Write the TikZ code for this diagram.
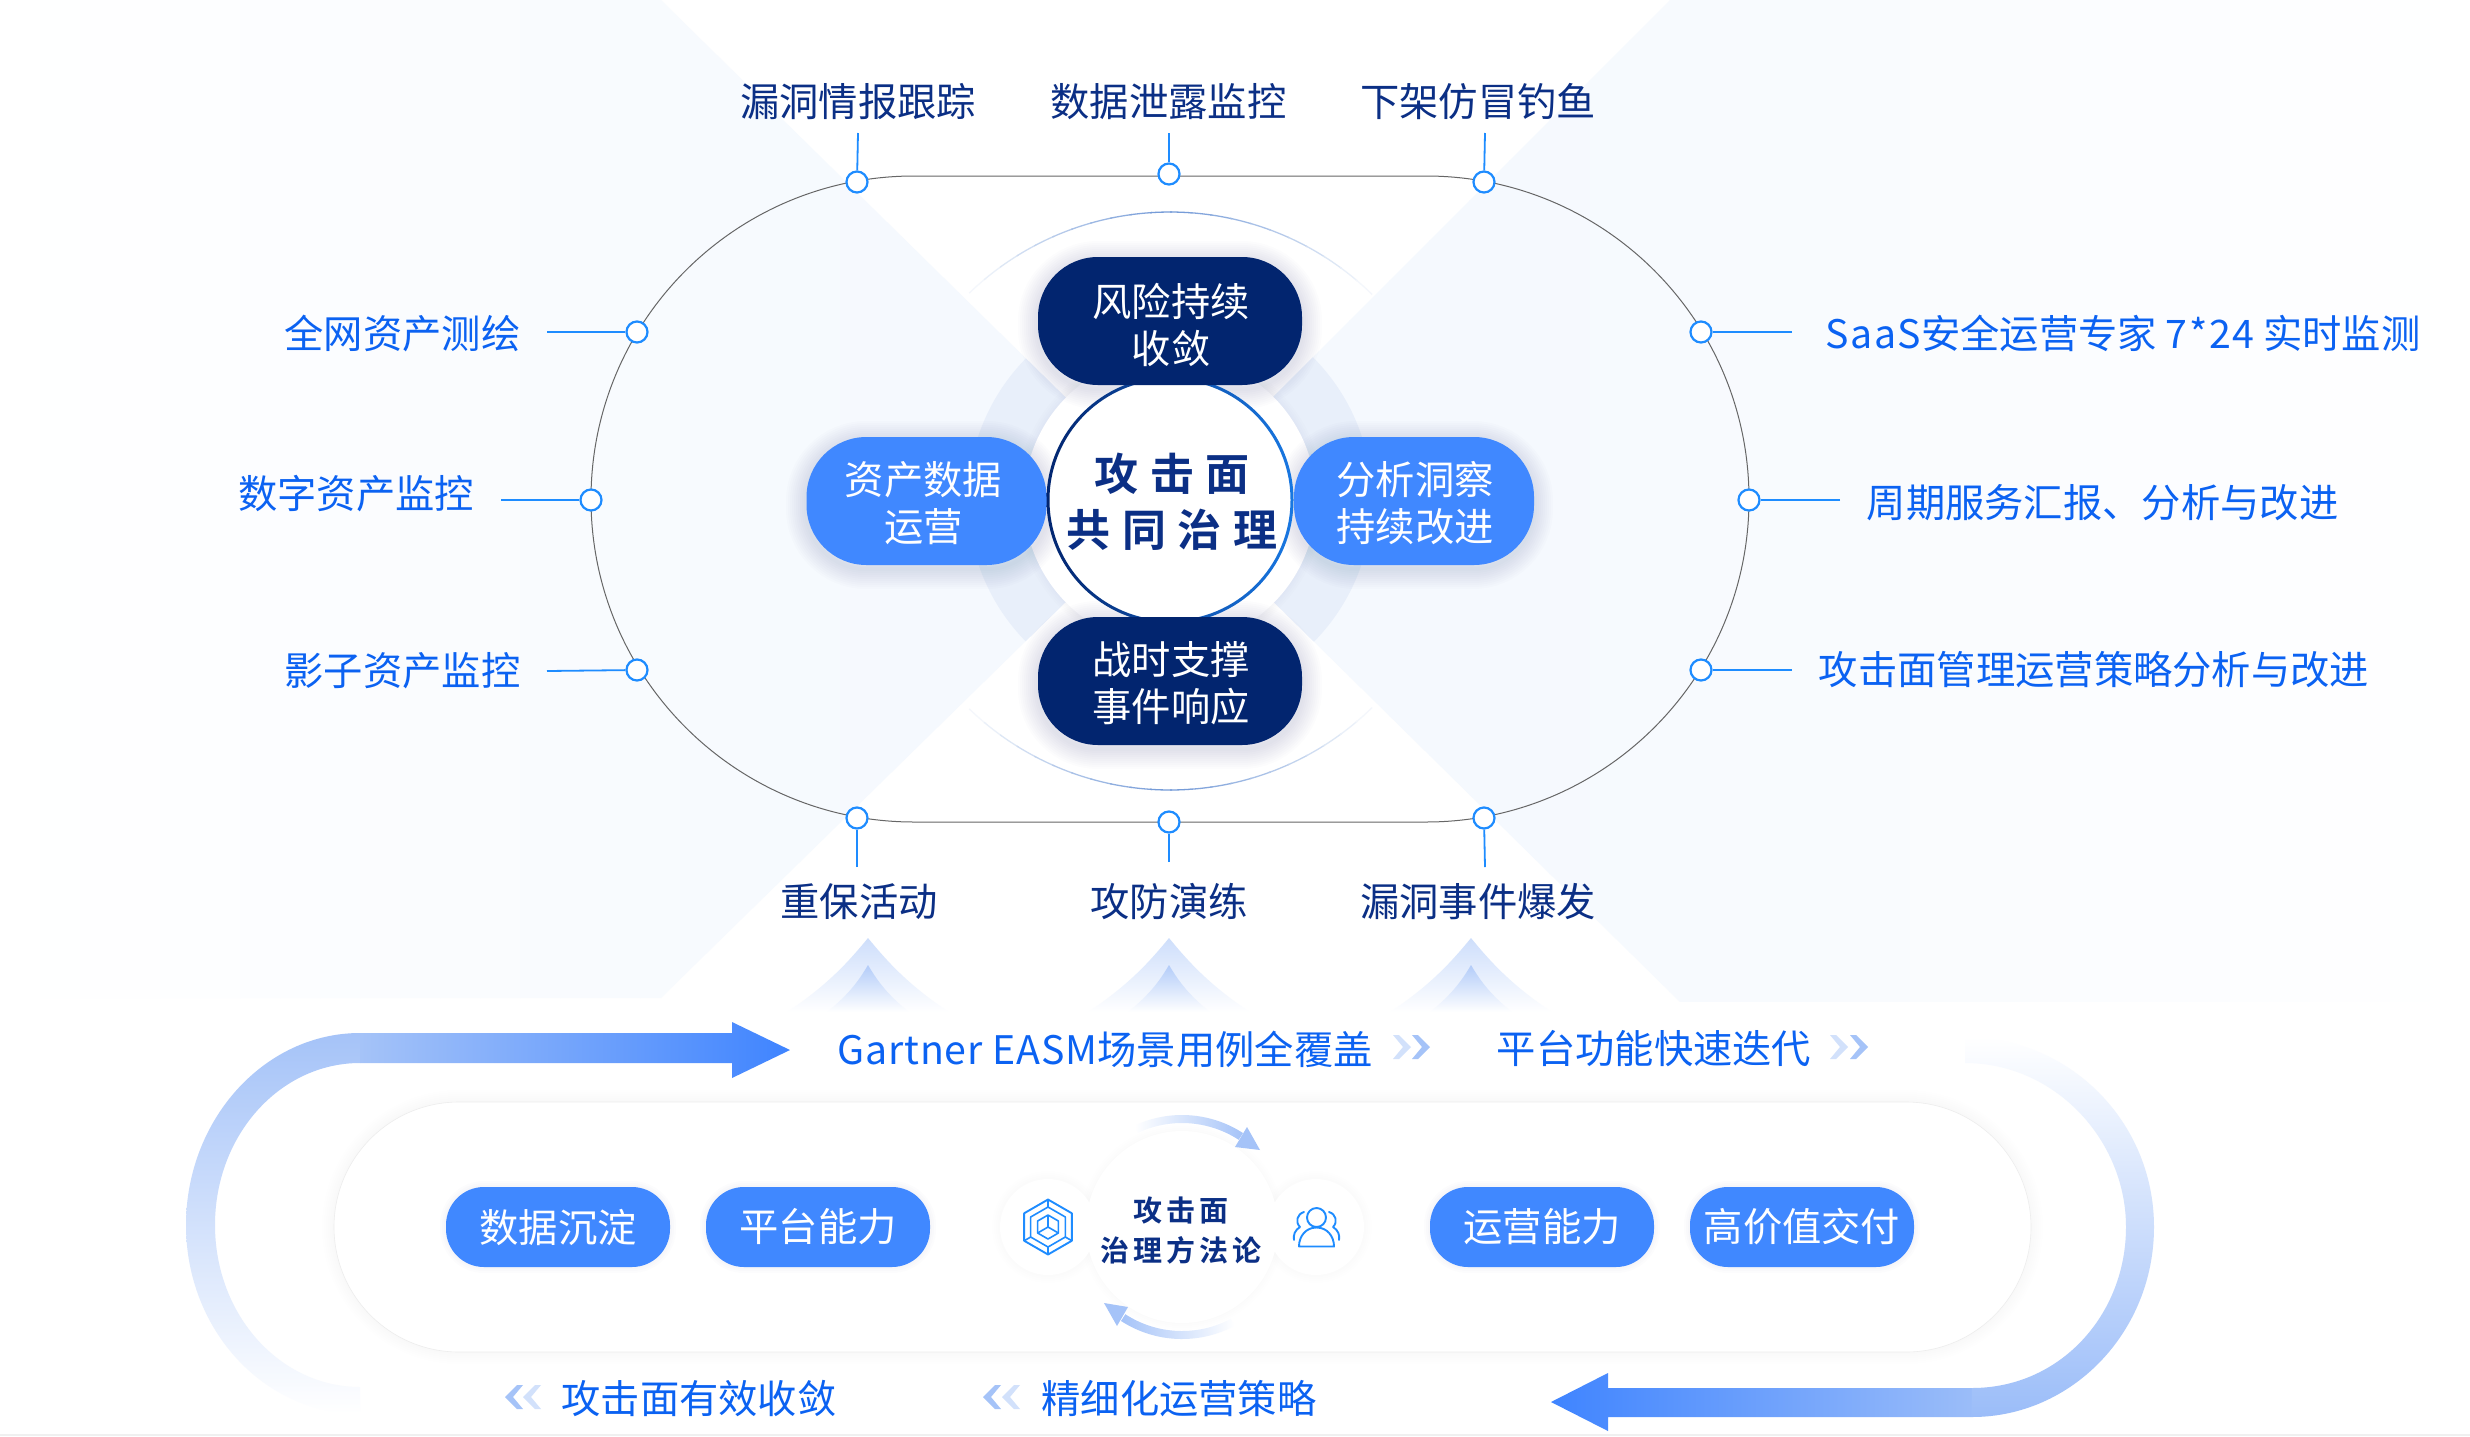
\documentclass[tikz,border=0pt]{standalone}
\usepackage{fontspec}
\setmainfont{Noto Sans CJK SC}
\newfontfamily\spacedbold[LetterSpace=26,BoldFont={Noto Sans CJK SC Bold}]{Noto Sans CJK SC}
\newfontfamily\spacedsmall[LetterSpace=14,BoldFont={Noto Sans CJK SC Bold}]{Noto Sans CJK SC}
\newfontfamily\latinwide[LetterSpace=4]{Noto Sans CJK SC}
\newfontfamily\latinslight[LetterSpace=2.2]{Noto Sans CJK SC}
\usetikzlibrary{calc}
\definecolor{navy}{HTML}{02256F}
\definecolor{midblue}{HTML}{4088FF}
\definecolor{sidetxt}{HTML}{0B62F2}
\definecolor{toptxt}{HTML}{0B2F85}
\definecolor{dotblue}{HTML}{1E8CFF}
\definecolor{pale}{HTML}{F5F9FE}
\definecolor{ringc}{HTML}{E8EFFA}
\definecolor{arcblue}{HTML}{6F97D6}
\definecolor{softarrow}{HTML}{A5C3F8}
\definecolor{arrowdeep}{HTML}{3F84FF}
\definecolor{track}{HTML}{666666}
\definecolor{shadowc}{HTML}{1B3A7A}
\tikzset{
  label text/.style={font=\fontsize{19.65}{23.5}\selectfont,inner sep=0pt},
  toplabel/.style={label text,text=toptxt},
  sidelabel/.style={label text,text=sidetxt},
  bandlabel/.style={label text,text=sidetxt},
  dot/.style={circle,draw=dotblue,fill=white,line width=1.1pt,minimum size=10.5pt,inner sep=0pt},
  stub/.style={draw=dotblue,line width=0.9pt},
  bigpill/.style={rectangle,rounded corners=30pt,minimum width=132pt,minimum height=64pt,inner sep=0pt,text=white,align=center,font=\fontsize{19.65}{23.5}\selectfont},
  sidepill/.style={bigpill,fill=midblue,minimum width=120pt},
  darkpill/.style={bigpill,fill=navy},
  smallpill/.style={rectangle,rounded corners=19pt,fill=midblue,minimum width=112pt,minimum height=40pt,inner sep=0pt,text=white,font=\fontsize{19.65}{23.5}\selectfont},
  whitedisc/.style={circle,fill=white,inner sep=0pt},
  icon/.style={draw=dotblue,line width=0.95pt,line join=round}
}
\newcommand{\softbox}[7]{% x1 y1 x2 y2 radius(pt) maxwidth opacity
  \foreach \w in {2,4,...,#6}{
    \draw[shadowc,opacity=#7,line width=\w pt,rounded corners=#5pt] (#1,#2) rectangle (#3,#4);
  }
}
\newcommand{\softcircle}[5]{% x y r(units) maxw opacity
  \foreach \w in {2,4,...,#4}{
    \draw[shadowc,opacity=#5,line width=\w pt] (#1,#2) circle[radius=#3];
  }
}
\newcommand{\chev}[4]{% x y dir colour
  \fill[#4] ({#1},{#2-12}) -- ({#1+#3*6},{#2-12}) -- ({#1+#3*18},{#2}) -- ({#1+#3*6},{#2+12}) -- ({#1},{#2+12}) -- ({#1+#3*10},{#2}) -- cycle;
}
\newcommand{\peak}[1]{%
  \shade[top color=softarrow!55!white,bottom color=white] (#1-81,1012) .. controls (#1-40,985) and (#1-18,960) .. (#1,938) .. controls (#1+18,960) and (#1+40,985) .. (#1+81,1012) -- cycle;
  \shade[top color=softarrow!85!white,bottom color=white] (#1-41,1012) .. controls (#1-20,995) and (#1-10,982) .. (#1,965) .. controls (#1+10,982) and (#1+20,995) .. (#1+41,1012) -- cycle;
}
\newcommand{\thinarc}[2]{% sign of angle, y centre
  \foreach \i in {0,...,21}{
    \pgfmathsetmacro\sa{#1*(134-4*\i)}
    \pgfmathsetmacro\ea{#1*(134-4*(\i+1))+#1*(-0.4)}
    \pgfmathsetmacro\v{max(8,100-abs(\i-10.5)*9)}
    \draw[arcblue!\v!white,line width=0.65pt] ($(1170,#2)+(\sa:289)$) arc[start angle=\sa,end angle=\ea,radius=289];
  }
}
\newcommand{\lowA}{\rule{0pt}{20.3pt}}
\newcommand{\lowB}{\rule{0pt}{18.8pt}}
\begin{document}
\begin{tikzpicture}[x=0.5pt,y=-0.5pt]
\useasboundingbox (0,0) rectangle (2470,1436);
\fill[white] (0,0) rectangle (2470,1436);
% background wedges
\begin{scope}
  \clip (0,0) -- (661,0) -- (1170,500) -- (661,998) -- (0,998) -- cycle;
  \foreach \i in {0,...,29}{
    \pgfmathsetmacro\v{min(100,\i*100/22)}
    \fill[pale!\v!white] ({\i*40},0) rectangle ({\i*40+41},1000);
  }
\end{scope}
\begin{scope}
  \clip (1670,0) -- (2470,0) -- (2470,1002) -- (1680,1002) -- (1170,500) -- cycle;
  \foreach \i in {0,...,32}{
    \pgfmathsetmacro\v{min(100,\i*100/24)}
    \fill[pale!\v!white] ({2470-\i*40-41},0) rectangle ({2470-\i*40},1002);
  }
\end{scope}
% pale ring in the two wedges
\begin{scope}
  \clip (661,0) -- (1170,500) -- (661,998) -- (500,998) -- (500,0) -- cycle;
  \fill[ringc] (1170,500) circle[radius=202];
\end{scope}
\begin{scope}
  \clip (1670,0) -- (1170,500) -- (1680,1002) -- (1900,1002) -- (1900,0) -- cycle;
  \fill[ringc] (1170,500) circle[radius=202];
\end{scope}
\softcircle{1170}{500}{146}{8}{0.006}
\fill[white] (1170,500) circle[radius=146];
% thin outer arcs
\thinarc{-1}{501}
\thinarc{1}{501}
% track
\draw[track,line width=0.5pt,rounded corners=161.5pt] (591,176) rectangle (1749,822);
% track dots and stubs
\node[dot] (t1) at (857,182) {};
\node[dot] (t2) at (1169,174) {};
\node[dot] (t3) at (1484,182) {};
\node[dot] (l1) at (637,332) {};
\node[dot] (l2) at (591,500) {};
\node[dot] (l3) at (637,670) {};
\node[dot] (r1) at (1701,332) {};
\node[dot] (r2) at (1749,500) {};
\node[dot] (r3) at (1701,670) {};
\node[dot] (b1) at (857,818) {};
\node[dot] (b2) at (1169,822) {};
\node[dot] (b3) at (1484,818) {};
\coordinate (st1) at (858,133);
\coordinate (st2) at (1169,133);
\coordinate (st3) at (1485,133);
\coordinate (sl1) at (547,332);
\coordinate (sl2) at (501,500);
\coordinate (sl3) at (547,671);
\coordinate (sr1) at (1792,332);
\coordinate (sr2) at (1840,500);
\coordinate (sr3) at (1792,670);
\coordinate (sb1) at (857,867);
\coordinate (sb2) at (1169,862);
\coordinate (sb3) at (1485,867);
\foreach \a/\b in {st1/t1,st2/t2,st3/t3,sl1/l1,sl2/l2,sl3/l3,sr1/r1,sr2/r2,sr3/r3,sb1/b1,sb2/b2,sb3/b3}
  \draw[stub] (\a) -- (\b);
% labels
\node[toplabel] (lt1) at (858,101.5) {漏洞情报跟踪};
\node[toplabel] (lt2) at (1168.5,101.5) {数据泄露监控};
\node[toplabel] (lt3) at (1478,101.5) {下架仿冒钓鱼};
\node[toplabel] (lb1) at (859,901.5) {重保活动};
\node[toplabel] (lb2) at (1169,901.5) {攻防演练};
\node[toplabel] (lb3) at (1478,901.5) {漏洞事件爆发};
\node[sidelabel] (ll1) at (402.5,333) {全网资产测绘};
\node[sidelabel] (ll2) at (356,493.5) {数字资产监控};
\node[sidelabel] (ll3) at (402.5,671) {影子资产监控};
\node[sidelabel,anchor=west] (lr1) at (1825,333) {{\latinwide SaaS}安全运营专家 {\latinwide 7*24} 实时监测};
\node[sidelabel] (lr2) at (2102.5,503) {周期服务汇报、分析与改进};
\node[sidelabel] (lr3) at (2094,669.5) {攻击面管理运营策略分析与改进};
% central figure
\softbox{806}{441}{1047}{569}{30}{20}{0.011}
\softbox{1295}{441}{1533}{569}{30}{20}{0.011}
\softbox{1038}{261}{1302}{389}{30}{20}{0.011}
\softbox{1038}{621}{1302}{749}{30}{20}{0.011}
\node[whitedisc,minimum size=122pt] (core) at (1170,500) {};
\shade[left color=navy,right color=dotblue!80!navy,even odd rule] (1170,500) circle[radius=123.5] circle[radius=120.5];
\node[sidepill] (p1) at (926.5,501) {\lowB\hspace*{-3pt}资产数据\\\hspace*{-3pt}运营};
\node[sidepill] (p2) at (1414,501) {\lowB\hspace*{1pt}分析洞察\\\hspace*{1pt}持续改进};
\node[darkpill] (p3) at (1170,321) {\lowA\hspace*{1pt}风险持续\\\hspace*{1pt}收敛};
\node[darkpill] (p4) at (1170,681) {\lowB\hspace*{1pt}战时支撑\\\hspace*{1pt}事件响应};
\node[inner sep=0pt,text=toptxt,align=center,font={\spacedbold\bfseries\fontsize{22}{28}\selectfont}] (coretxt) at (1172,502) {攻击面\\共同治理};
% peaks
\peak{868}
\peak{1169}
\peak{1471}
% big arrows
\shade[top color=softarrow,middle color=softarrow!65!white,bottom color=white]
  (360,1033) .. controls (264,1033) and (186,1120) .. (186,1225)
  .. controls (186,1330) and (264,1414) .. (360,1414)
  -- (360,1387) .. controls (280,1387) and (215,1315) .. (215,1225)
  .. controls (215,1135) and (280,1063) .. (360,1063) -- cycle;
\shade[left color=softarrow,middle color=arrowdeep!80!softarrow,right color=arrowdeep]
  (360,1033) -- (732,1033) -- (732,1022) -- (790,1050) -- (732,1078) -- (732,1063) -- (360,1063) -- cycle;
\shade[top color=white,middle color=softarrow!60!white,bottom color=softarrow!90!arrowdeep]
  (1965,1037) .. controls (2070,1037) and (2154,1122) .. (2154,1227)
  .. controls (2154,1332) and (2072,1417) .. (1972,1417)
  -- (1972,1388) .. controls (2060,1388) and (2126,1315) .. (2126,1227)
  .. controls (2126,1140) and (2055,1063) .. (1965,1063) -- cycle;
\shade[left color=arrowdeep,middle color=arrowdeep!80!softarrow,right color=softarrow!90!arrowdeep]
  (1972,1417) -- (1608,1417) -- (1608,1431) -- (1551,1402) -- (1608,1373) -- (1608,1388) -- (1972,1388) -- cycle;
% band labels and chevrons
\node[bandlabel] (g1) at (1105,1049) {{\latinslight Gartner EASM}场景用例全覆盖};
\node[bandlabel] (g2) at (1654,1049) {平台功能快速迭代};
\node[bandlabel] (g3) at (699,1398.5) {攻击面有效收敛};
\node[bandlabel] (g4) at (1179,1398.5) {精细化运营策略};
\chev{1393}{1047}{1}{softarrow!50!white}
\chev{1412}{1047}{1}{softarrow}
\chev{1830}{1047}{1}{softarrow!50!white}
\chev{1850}{1047}{1}{softarrow}
\chev{541}{1397}{-1}{softarrow!50!white}
\chev{523}{1397}{-1}{softarrow}
\chev{1020}{1397}{-1}{softarrow!50!white}
\chev{1001}{1397}{-1}{softarrow}
% lower panel
\softbox{334}{1102}{2031}{1352}{62.5}{12}{0.0035}
\node[rectangle,rounded corners=62.5pt,fill=white,draw=black!7,line width=0.3pt,minimum width=848.5pt,minimum height=125pt,inner sep=0pt] (panel) at (1182.5,1227) {};
\softbox{446}{1187}{670}{1267}{19}{6}{0.012}
\softbox{706}{1187}{930}{1267}{19}{6}{0.012}
\softbox{1430}{1187}{1654}{1267}{19}{6}{0.012}
\softbox{1690}{1187}{1914}{1267}{19}{6}{0.012}
\node[smallpill] (s1) at (558,1227) {数据沉淀};
\node[smallpill] (s2) at (818,1227) {平台能力};
\node[smallpill] (s3) at (1542,1227) {运营能力};
\node[smallpill] (s4) at (1802,1227) {高价值交付};
% methodology discs
\softcircle{1182}{1227}{93}{10}{0.005}
\softcircle{1048}{1227}{48}{8}{0.005}
\softcircle{1316}{1227}{48}{8}{0.005}
\node[whitedisc,minimum size=96pt] (m0) at (1182,1227) {};
\node[whitedisc,minimum size=48pt] (m1) at (1048,1227) {};
\node[whitedisc,minimum size=48pt] (m2) at (1316,1227) {};
\node[inner sep=0pt,text=toptxt,align=center,font={\spacedsmall\bfseries\fontsize{14.5}{20}\selectfont}] (m0t) at (1181,1230) {攻击面\\治理方法论};
% circular arrows
\shade[left color=white,right color=softarrow]
  ($(1182,1227)+(-115:112)$) arc[start angle=-115,end angle=-57,radius=112]
  -- ($(1182,1227)+(-57:104)$) arc[start angle=-57,end angle=-115,radius=104] -- cycle;
\fill[softarrow] (1247,1127) -- (1260,1150) -- (1235,1147) -- cycle;
\shade[left color=softarrow,right color=white]
  ($(1182,1227)+(123:112)$) arc[start angle=123,end angle=62,radius=112]
  -- ($(1182,1227)+(62:104)$) arc[start angle=62,end angle=123,radius=104] -- cycle;
\fill[softarrow] (1128,1307) -- (1104,1303) -- (1117,1326) -- cycle;
% hexagon icon
\begin{scope}[shift={(1048,1227)}]
  \draw[icon] (90:27.5) -- (30:27.5) -- (-30:27.5) -- (-90:27.5) -- (-150:27.5) -- (150:27.5) -- cycle;
  \draw[icon,line width=0.8pt] (90:20) -- (30:20) -- (-30:20) -- (-90:20) -- (-150:20) -- (150:20) -- cycle;
  \foreach \a in {90,30,150,-90}{\draw[icon,line width=0.8pt] (\a:20) -- (\a:27.5);}
  \draw[icon,line width=0.8pt] (90:12) -- (30:12) -- (-30:12) -- (-90:12) -- (-150:12) -- (150:12) -- cycle;
  \draw[icon,line width=0.8pt] (150:12) -- (0,0) -- (30:12);
  \draw[icon,line width=0.8pt] (0,0) -- (-90:12);
\end{scope}
% people icon
\draw[icon] (1316.5,1217.5) circle[radius=9.5];
\draw[icon] (1299,1246.5) .. controls (1299,1236) and (1306,1227.5) .. (1316.5,1227.5) .. controls (1327,1227.5) and (1334,1236) .. (1334,1246.5) -- cycle;
\draw[icon,line cap=round] (1304,1212) .. controls (1297,1214) and (1295,1222) .. (1300,1227) .. controls (1295,1230) and (1293,1235) .. (1294,1240);
\draw[icon,line cap=round] (1329,1212) .. controls (1336,1214) and (1338,1222) .. (1333,1227) .. controls (1338,1230) and (1340,1235) .. (1339,1240);
\fill[black!6] (0,1434) rectangle (2470,1436);
\end{tikzpicture}
\end{document}
